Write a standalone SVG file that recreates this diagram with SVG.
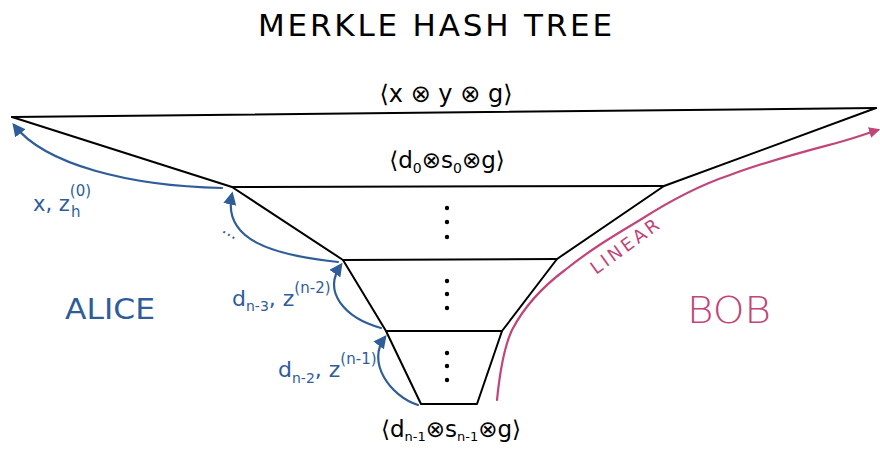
<svg xmlns="http://www.w3.org/2000/svg" width="880" height="451" viewBox="0 0 880 451">
<style>
  .edge{fill:none;stroke:#000;stroke-width:2;stroke-linejoin:round;stroke-linecap:round}
  .blue{fill:none;stroke:#2f5d9a;stroke-width:2.2;stroke-linecap:round}
  .pink{fill:none;stroke:#c2457a;stroke-width:2.2;stroke-linecap:round}
  .t{font-family:"DejaVu Sans","Liberation Sans",sans-serif;fill:#000}
  .bt{font-family:"DejaVu Sans","Liberation Sans",sans-serif;fill:#2f5d9a}
  .pt{font-family:"DejaVu Sans","Liberation Sans",sans-serif;fill:#c2457a}
  .dot{fill:#000}
</style>
<defs>
  <marker id="ab" viewBox="0 0 10 10" refX="8" refY="5" markerWidth="6" markerHeight="6" orient="auto-start-reverse">
    <path d="M0,0 L10,5 L0,10 z" fill="#2f5d9a"/>
  </marker>
  <marker id="ap" viewBox="0 0 10 10" refX="8" refY="5" markerWidth="5" markerHeight="5" orient="auto">
    <path d="M0,0 L10,5 L0,10 z" fill="#c2457a"/>
  </marker>
</defs>

<text class="t" x="258" y="36" font-size="31" textLength="354" lengthAdjust="spacing">MERKLE HASH TREE</text>

<g id="tree">
  <path class="edge" d="M12,117 L876,108" stroke-width="2.6"/>
  <path class="edge" d="M12,117 L232,187 L343,260 L386,331 L421,404 L477,404 L502,331 L557,259 L664,186 L876,108"/>
  <path class="edge" d="M232,187 L664,186"/>
  <path class="edge" d="M343,260 L557,259"/>
  <path class="edge" d="M386,331 L502,331"/>
</g>

<g id="level0">
  <text class="t" x="446" y="102" font-size="24" text-anchor="middle">⟨x ⊗ y ⊗ g⟩</text>
</g>
<g id="level1">
  <text class="t" x="447" y="168" font-size="23" text-anchor="middle">⟨d<tspan font-size="14" dy="5">0</tspan><tspan dy="-5">⊗s</tspan><tspan font-size="14" dy="5">0</tspan><tspan dy="-5">⊗g⟩</tspan></text>
</g>
<g id="dots">
  <circle class="dot" cx="447" cy="208" r="2.2"/><circle class="dot" cx="447" cy="222" r="2.2"/><circle class="dot" cx="447" cy="237" r="2.2"/>
  <circle class="dot" cx="447" cy="281" r="2.2"/><circle class="dot" cx="447" cy="294" r="2.2"/><circle class="dot" cx="447" cy="308" r="2.2"/>
  <circle class="dot" cx="447" cy="353" r="2.2"/><circle class="dot" cx="447" cy="366" r="2.2"/><circle class="dot" cx="447" cy="380" r="2.2"/>
</g>
<g id="leaf">
  <text class="t" x="451" y="437" font-size="23" text-anchor="middle">⟨d<tspan font-size="13" dy="4">n-1</tspan><tspan dy="-4">⊗s</tspan><tspan font-size="13" dy="4">n-1</tspan><tspan dy="-4">⊗g⟩</tspan></text>
</g>

<g id="connectors">
  <path class="blue" d="M222,188 C130,186 45,165 14,125" marker-end="url(#ab)"/>
  <path class="blue" d="M338,262 C272,255 222,240 232,194" marker-end="url(#ab)"/>
  <path class="blue" d="M381,328 C345,318 322,292 341,265" marker-end="url(#ab)"/>
  <path class="blue" d="M418,405 C390,396 366,362 385,337" marker-end="url(#ab)"/>
  <path class="pink" d="M497,400 C500,370 505,345 512,330 C525,305 545,285 565,270 C590,250 610,238 640,220 C665,204 700,185 730,175 C770,160 810,150 840,142 C858,137 868,133 878,130" marker-end="url(#ap)"/>
</g>

<g id="labels">
  <text class="bt" x="33" y="211" font-size="21">x, z<tspan font-size="15" dy="-15">(0)</tspan><tspan font-size="15" dx="-20" dy="21">h</tspan></text>
  <text class="bt" x="219" y="236" font-size="17" transform="rotate(30 228 238)">...</text>
  <text class="bt" x="232" y="306" font-size="22">d<tspan font-size="14" dy="5">n-3</tspan><tspan dy="-5">, z</tspan><tspan font-size="15" dy="-13">(n-2)</tspan></text>
  <text class="bt" x="278" y="377" font-size="22">d<tspan font-size="14" dy="6">n-2</tspan><tspan dy="-6">, z</tspan><tspan font-size="15" dy="-13">(n-1)</tspan></text>
  <text class="bt" x="65" y="319" font-size="29" textLength="90" lengthAdjust="spacingAndGlyphs">ALICE</text>
  <text class="pt" x="687" y="323" font-size="38" font-weight="300" textLength="84" lengthAdjust="spacingAndGlyphs">BOB</text>
  <text class="pt" x="0" y="0" font-size="18" letter-spacing="3" transform="translate(596,275) rotate(-36)">LINEAR</text>
</g>
</svg>
